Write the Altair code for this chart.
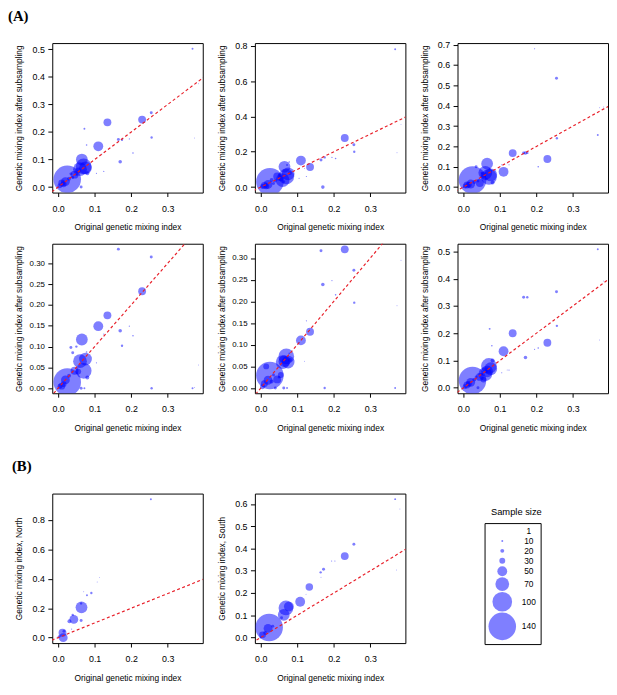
import altair as alt
import pandas as pd

# ---------------- data ----------------
# populations shared by the six subsampling panels (A)
orig_index = [0.000, 0.005, 0.010, 0.015, 0.020, 0.025, 0.030, 0.035, 0.040, 0.045,
              0.050, 0.055, 0.060, 0.063, 0.065, 0.070, 0.072, 0.075, 0.080, 0.078,
              0.105, 0.110, 0.120, 0.125, 0.135, 0.165, 0.170, 0.175, 0.195, 0.205,
              0.230, 0.255, 0.256, 0.368, 0.373, 0.384]
sample_size = [8, 25, 35, 30, 45, 140, 20, 15, 15, 40,
               12, 30, 70, 15, 60, 80, 10, 65, 20, 8,
               6, 50, 5, 6, 40, 15, 18, 12, 6, 8,
               40, 15, 12, 10, 5, 5]

sub_a1 = [0.000, 0.005, 0.015, 0.010, 0.020, 0.028, 0.030, 0.048, 0.035, 0.045,
          0.045, 0.060, 0.065, 0.000, 0.100, 0.075, 0.212, 0.070, 0.050, 0.153,
          0.050, 0.148, 0.120, 0.057, 0.235, 0.173, 0.092, 0.172, 0.175, 0.124,
          0.245, 0.270, 0.180, 0.502, 0.178, 0.375]
sub_a2 = [0.000, 0.003, 0.010, 0.005, 0.015, 0.030, 0.040, 0.020, 0.035, 0.060,
          0.070, 0.050, 0.040, 0.030, 0.115, 0.060, 0.125, 0.075, 0.080, 0.142,
          0.050, 0.150, 0.105, 0.060, 0.114, 0.153, 0.000, 0.168, 0.168, 0.162,
          0.278, 0.240, 0.200, 0.780, 0.195, 0.355]
sub_a3 = [0.000, 0.005, 0.010, 0.012, 0.015, 0.035, 0.025, 0.100, 0.030, 0.020,
          0.070, 0.060, 0.070, 0.040, 0.115, 0.050, 0.090, 0.060, 0.022, 0.080,
          0.110, 0.075, 0.118, 0.110, 0.167, 0.168, 0.168, 0.168, 0.680, 0.100,
          0.138, 0.535, 0.240, 0.256, 0.390, 0.394]
sub_a4 = [0.000, 0.005, 0.005, 0.010, 0.020, 0.015, 0.030, 0.098, 0.085, 0.042,
          0.100, 0.040, 0.065, 0.000, 0.117, 0.042, 0.000, 0.070, 0.026, 0.087,
          0.061, 0.149, 0.120, 0.130, 0.175, 0.334, 0.138, 0.102, 0.149, 0.126,
          0.233, 0.315, 0.000, 0.000, 0.002, 0.056]
sub_a5 = [0.000, 0.003, 0.010, 0.050, 0.018, 0.029, 0.015, 0.030, 0.000, 0.020,
          0.025, 0.030, 0.060, 0.000, 0.062, 0.073, 0.000, 0.060, 0.065, 0.080,
          0.105, 0.110, 0.062, 0.155, 0.130, 0.317, 0.239, 0.000, 0.248, 0.215,
          0.320, 0.272, 0.197, 0.000, 0.190, 0.295]
sub_a6 = [0.000, 0.005, 0.010, 0.015, 0.020, 0.027, 0.030, 0.040, 0.000, 0.040,
          0.050, 0.030, 0.050, 0.060, 0.060, 0.080, 0.216, 0.070, 0.100, 0.154,
          0.055, 0.134, 0.065, 0.065, 0.200, 0.332, 0.111, 0.332, 0.141, 0.146,
          0.165, 0.352, 0.227, 0.508, 0.175, 0.391]

# panel (B): North and South
north_x = [0.254, 0.113, 0.107, 0.070, 0.091, 0.079, 0.064, 0.063, 0.063, 0.043,
           0.040, 0.031, 0.037, 0.014, 0.012, 0.016, 0.003, 0.000]
north_y = [0.942, 0.410, 0.379, 0.313, 0.304, 0.288, 0.206, 0.233, 0.117, 0.124,
           0.155, 0.111, 0.058, 0.000, 0.033, 0.044, 0.007, 0.000]
north_n = [10, 5, 5, 5, 12, 10, 60, 12, 15, 45,
           12, 20, 6, 45, 40, 15, 15, 8]

south_x = [0.368, 0.381, 0.372, 0.255, 0.230, 0.203, 0.194, 0.172, 0.164, 0.165,
           0.133, 0.124, 0.108, 0.077, 0.069, 0.063, 0.057, 0.023, 0.033, 0.020,
           0.005, 0.000, 0.012]
south_y = [0.622, 0.578, 0.303, 0.419, 0.366, 0.344, 0.344, 0.307, 0.293, 0.271,
           0.227, 0.195, 0.161, 0.139, 0.133, 0.102, 0.089, 0.045, 0.051, 0.041,
           0.012, 0.000, 0.020]
south_n = [10, 5, 5, 15, 40, 6, 6, 15, 12, 5,
           38, 5, 50, 50, 75, 60, 15, 140, 15, 45,
           35, 10, 20]

legend_sizes = [1, 10, 20, 30, 50, 70, 100, 140]
legend_title = "Sample size"
diag_vals = [-0.1, 1.0]          # y = x reference line
x_ticks = [0.0, 0.1, 0.2, 0.3]
ticks_05 = [0.0, 0.1, 0.2, 0.3, 0.4, 0.5]
ticks_08 = [0.0, 0.2, 0.4, 0.6, 0.8]
ticks_07 = [0.0, 0.1, 0.2, 0.3, 0.4, 0.5, 0.6, 0.7]
ticks_030 = [0.00, 0.05, 0.10, 0.15, 0.20, 0.25, 0.30]
ticks_06 = [0.0, 0.1, 0.2, 0.3, 0.4, 0.5, 0.6]

# ---------------- style ----------------
FONT = "Liberation Sans"
BLUE = "#0000FF"
RED = "#E8202A"
XDOM = [-0.016, 0.396]
W, H = 153, 152
size_scale = alt.Scale(type="pow", exponent=2, domain=[0, 140], range=[0, 784])
XTITLE = "Original genetic mixing index"
YSUB = "Genetic mixing index after subsampling"

size_legend = alt.Legend(
    title=None, orient="none", legendX=233.5, legendY=30, values=legend_sizes,
    symbolType="circle", symbolFillColor=BLUE, symbolOpacity=0.5,
    symbolStrokeWidth=0, labelFont=FONT, labelFontSize=8.5, labelColor="black",
    labelAlign="center", labelOffset=13, padding=4, rowPadding=1,
    strokeColor="black", direction="vertical", format="d")

title_legend = alt.Legend(
    title=legend_title, orient="none", legendX=240, legendY=14, padding=0,
    titleFont=FONT, titleFontSize=9.5, titleFontWeight="normal",
    titleColor="black", titlePadding=0, symbolOpacity=0, symbolSize=0,
    symbolStrokeWidth=0, labelExpr="''", labelFontSize=1)


def panel(xs, ys, ns, ydom, yticks, yfmt, ytitle, ylab=9, with_legend=False):
    df = pd.DataFrame({"x": xs, "y": ys, "n": ns})
    diag = pd.DataFrame({"x": diag_vals, "y": diag_vals,
                         "lab": [legend_title] * len(diag_vals)})
    xenc = alt.X("x:Q", scale=alt.Scale(domain=XDOM, nice=False, zero=False),
                 axis=alt.Axis(values=x_ticks, format=".1f", title=XTITLE))
    yenc = alt.Y("y:Q", scale=alt.Scale(domain=ydom, nice=False, zero=False),
                 axis=alt.Axis(values=yticks, format=yfmt, title=ytitle,
                               labelFontSize=ylab))
    pts = alt.Chart(df).mark_circle(color=BLUE, opacity=0.5, clip=True).encode(
        x=xenc, y=yenc,
        size=alt.Size("n:Q", scale=size_scale,
                      legend=size_legend if with_legend else None),
    )
    line = alt.Chart(diag).mark_line(color=RED, strokeDash=[3, 2.5],
                                     strokeWidth=1.2, clip=True)
    if with_legend:
        line = line.encode(
            x=xenc, y=yenc,
            opacity=alt.Opacity("lab:N", scale=alt.Scale(range=[1, 1]),
                                legend=title_legend),
        )
    else:
        line = line.encode(x=xenc, y=yenc)
    return alt.layer(pts, line).properties(width=W, height=H)


p1 = panel(orig_index, sub_a1, sample_size, [-0.02, 0.523], ticks_05, ".1f", YSUB)
p2 = panel(orig_index, sub_a2, sample_size, [-0.031, 0.815], ticks_08, ".1f", YSUB)
p3 = panel(orig_index, sub_a3, sample_size, [-0.027, 0.708], ticks_07, ".1f", YSUB)
p4 = panel(orig_index, sub_a4, sample_size, [-0.012, 0.347], ticks_030, ".2f", YSUB, 8)
p5 = panel(orig_index, sub_a5, sample_size, [-0.012, 0.333], ticks_030, ".2f", YSUB, 8)
p6 = panel(orig_index, sub_a6, sample_size, [-0.02, 0.528], ticks_05, ".1f", YSUB)
p7 = panel(north_x, north_y, north_n, [-0.037, 0.98], ticks_08, ".1f",
           "Genetic mixing index, North")
p8 = panel(south_x, south_y, south_n, [-0.025, 0.647], ticks_06, ".1f",
           "Genetic mixing index, South", with_legend=True)

title_a = alt.TitleParams(text="(A)", font="Liberation Serif", fontSize=15,
                          fontWeight="bold", anchor="start", offset=17, dx=-6.5,
                          color="black")
title_b = alt.TitleParams(text="(B)", font="Liberation Serif", fontSize=15,
                          fontWeight="bold", anchor="start", offset=19, dx=-2.5,
                          color="black")

IND = dict(size="independent", opacity="independent")
row1 = alt.hconcat(p1, p2, p3, spacing=13, title=title_a).resolve_scale(**IND)
row2 = alt.hconcat(p4, p5, p6, spacing=13).resolve_scale(**IND)
row3 = alt.hconcat(p7, p8, spacing=13, title=title_b).resolve_scale(**IND)
upper = alt.vconcat(row1, row2, spacing=11).resolve_scale(**IND)

chart = alt.vconcat(upper, row3, spacing=27).resolve_scale(**IND).properties(
    padding={"left": 0, "top": -5, "right": 0, "bottom": 0}
).configure_view(
    stroke="black", strokeWidth=1
).configure_axis(
    domain=False, grid=False, tickColor="black", tickWidth=1,
    labelColor="black", titleColor="black", labelFont=FONT, titleFont=FONT,
    titleFontWeight="normal", titleFontSize=8.5, labelFontSize=9,
    labelFlush=False, labelOverlap=False,
).configure_axisX(
    tickSize=4, labelPadding=8, titlePadding=10, minExtent=21, maxExtent=21,
).configure_axisY(
    tickSize=4.5, labelPadding=3.5, titlePadding=5, minExtent=24, maxExtent=24,
)

chart.save("out.html", embed_options={"renderer": "svg", "actions": False})
